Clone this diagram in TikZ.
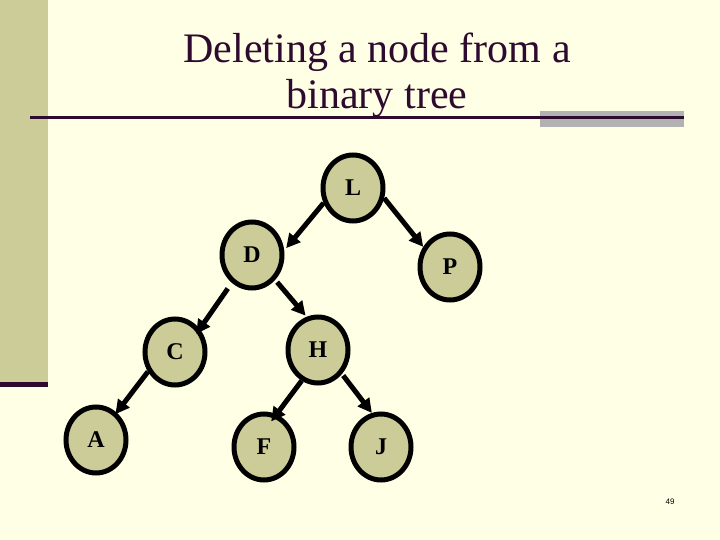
\documentclass[tikz,border=0pt]{standalone}
\usepackage{fontspec}
\setmainfont{Liberation Serif}
\newfontfamily\pagenumfont{Liberation Sans}
\usetikzlibrary{arrows.meta,shapes.geometric}
\definecolor{slidebg}{HTML}{FFFFE5}
\definecolor{khaki}{HTML}{CCCC99}
\definecolor{plum}{HTML}{2E0A2E}
\definecolor{bargrey}{HTML}{B2B2B2}

\begin{document}
\begin{tikzpicture}[x=1pt,y=-1pt,
        treenode/.style={ellipse,draw,line width=5pt,fill=khaki,minimum width=60pt,minimum height=66pt,inner sep=0pt,font=\fontsize{24}{26}\selectfont\bfseries},
        link/.style={line width=5pt,-{Triangle[length=14pt,width=14pt]}}]
        \useasboundingbox (0,0) rectangle (720,540);
        \fill[slidebg] (0,0) rectangle (720,540);
        \fill[khaki] (0,0) rectangle (48,382);
        \fill[plum] (0,382) rectangle (48,387);
        \fill[bargrey] (540,111) rectangle (684,127);
        \draw[plum,line width=3pt] (30,117.5) -- (684,117.5);
        \node[plum,align=center,anchor=north,inner sep=0pt,font=\fontsize{42}{46}\selectfont] (title) at (377,33) {Deleting a node from a\\binary tree};
        % the tree
        \node[treenode] (L) at (353,188) {L};
        \node[treenode] (D) at (252,255) {D};
        \node[treenode] (P) at (450,267) {P};
        \node[treenode] (C) at (175,352) {C};
        \node[treenode] (H) at (318,350) {H};
        \node[treenode] (A) at (96,440) {A};
        \node[treenode] (F) at (264,447) {F};
        \node[treenode] (J) at (381,447) {J};
        \draw[link,shorten >=3pt] (L.207) -- (D.8);
        \draw[link] (L.342) -- (P.143);
        \draw[link,shorten <=7pt,shorten >=-6pt] (D.234) -- (C.43);
        \draw[link,shorten <=3pt,shorten >=1.5pt] (D.313) -- (H.109);
        \draw[link,shorten >=-2pt] (C.216) -- (A.53);
        \draw[link,shorten >=-9pt] (H.242) -- (F.69);
        \draw[link,shorten <=2pt] (H.315) -- (J.105);
        \node[font=\pagenumfont\fontsize{8}{9}\selectfont] (pagenum) at (670,502) {49};
\end{tikzpicture}
\end{document}
